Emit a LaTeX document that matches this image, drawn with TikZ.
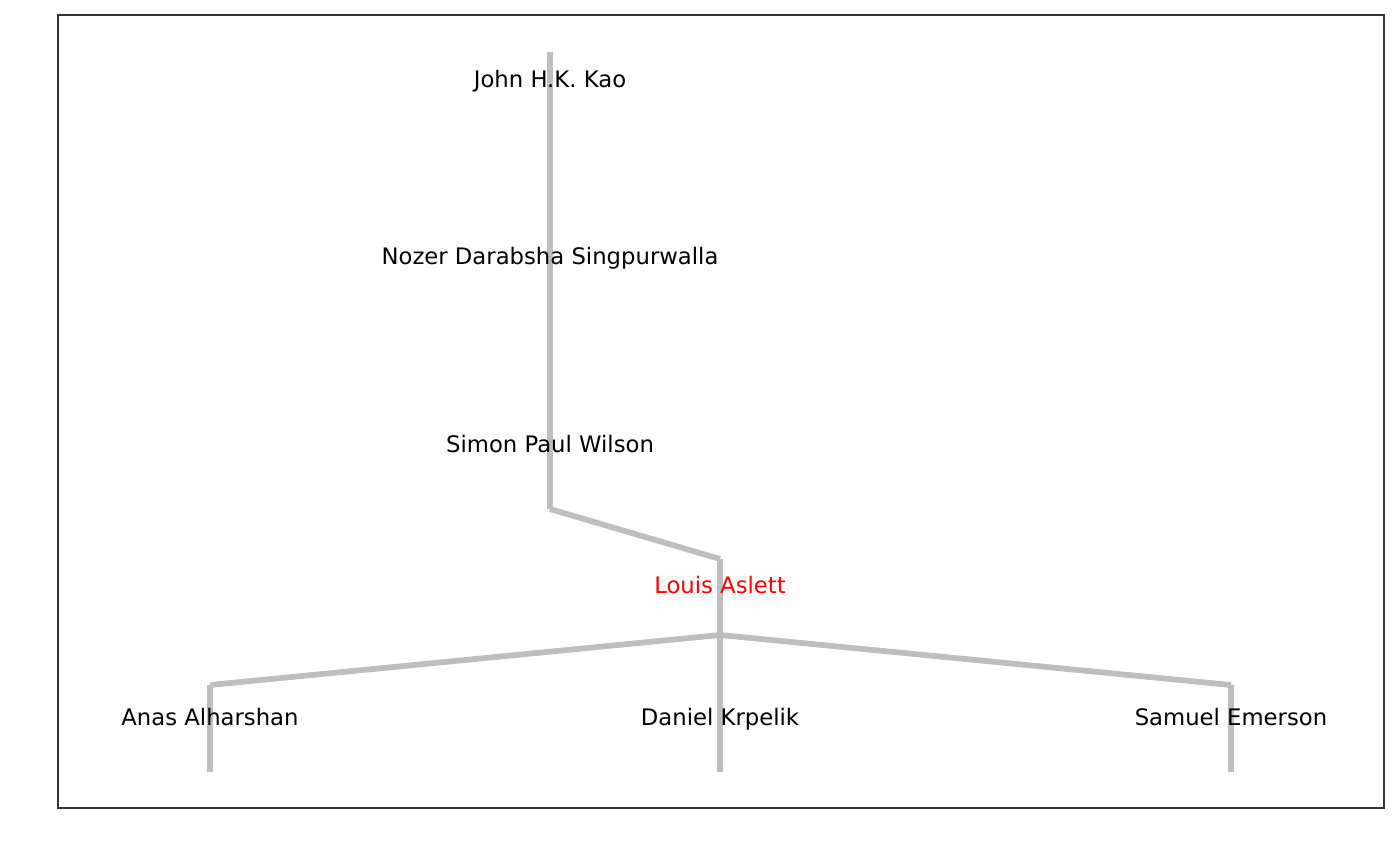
\documentclass[tikz,border=0pt]{standalone}
\usepackage{fontspec}
\setmainfont{DejaVu Sans}
\definecolor{treegray}{HTML}{BEBEBE}
\definecolor{framegray}{HTML}{333333}
\definecolor{focusred}{HTML}{FF0000}
\tikzset{
  stem/.style={draw=treegray, line width=4.3pt},
  person/.style={anchor=base, inner sep=0pt, font=\fontsize{17.05}{20}\selectfont},
}
\begin{document}
\begin{tikzpicture}[x=0.75pt, y=-0.75pt]

  \useasboundingbox (0,0) rectangle (1400,866);

  % the plot frame
  \draw[framegray, line width=0.8pt] (58,15) rectangle (1384,808);

  % top and bottom of each person's stem
  \coordinate (kao-top)    at (550,52);
  \coordinate (kao-bot)    at (550,133);
  \coordinate (nozer-top)  at (550,183);
  \coordinate (nozer-bot)  at (550,353);
  \coordinate (simon-top)  at (550,403);
  \coordinate (simon-bot)  at (550,509);
  \coordinate (louis-top)  at (720,559);
  \coordinate (louis-bot)  at (720,635);
  \coordinate (anas-top)   at (210,685);
  \coordinate (anas-bot)   at (210,772);
  \coordinate (daniel-top) at (720,685);
  \coordinate (daniel-bot) at (720,772);
  \coordinate (samuel-top) at (1231,685);
  \coordinate (samuel-bot) at (1231,772);

  % the stems
  \foreach \p in {kao,nozer,simon,louis,anas,daniel,samuel}{
    \draw[stem] (\p-top) -- (\p-bot);
  }

  % advisor to student
  \draw[stem] (kao-bot) -- (nozer-top);
  \draw[stem] (nozer-bot) -- (simon-top);
  \draw[stem] (simon-bot) -- (louis-top);
  \foreach \p in {anas,daniel,samuel}{
    \draw[stem] (louis-bot) -- (\p-top);
  }

  % the names, over the lines
  \node[person] (kao)    at (550,88)  {John H.K. Kao};
  \node[person] (nozer)  at (550,265) {Nozer Darabsha Singpurwalla};
  \node[person] (simon)  at (550,452) {Simon Paul Wilson};
  \node[person, text=focusred] (louis) at (720,593) {Louis Aslett};
  \node[person] (anas)   at (210,725) {Anas Alharshan};
  \node[person] (daniel) at (720,725) {Daniel Krpelik};
  \node[person] (samuel) at (1231,725) {Samuel Emerson};

\end{tikzpicture}
\end{document}
